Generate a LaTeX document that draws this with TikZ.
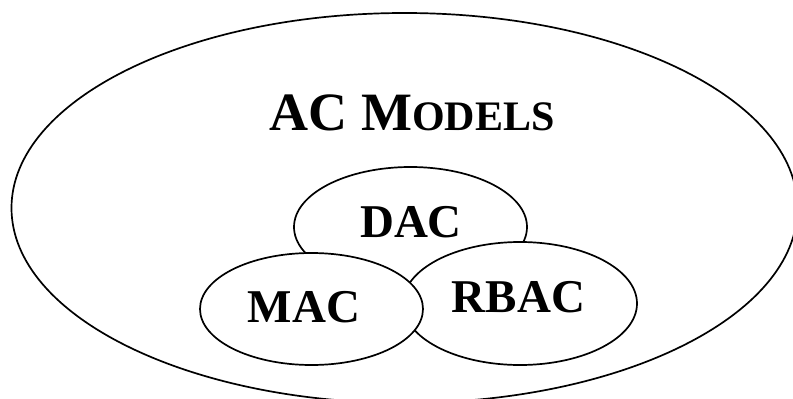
\documentclass[tikz,border=0pt]{standalone}
\usepackage{fontspec}
\setmainfont{Liberation Serif}
\usetikzlibrary{shapes.geometric}
\begin{document}
\begin{tikzpicture}[x=1pt,y=-1pt,
  ring/.style={draw=black,line width=1.7pt,ellipse,inner sep=0pt,fill=white},
  label/.style={anchor=base,font=\bfseries\fontsize{47}{47}\selectfont,inner sep=0pt}]
  \useasboundingbox (0,0) rectangle (793,399);
  \clip (0,0) rectangle (793,399);
  % outer ellipse (partly beyond the page edge)
  \draw[line width=1.7pt] (404.5,208) ellipse [x radius=393, y radius=195];
  \node[anchor=base,inner sep=0pt] (title) at (412,130)
    {\bfseries\fontsize{54}{54}\selectfont AC M\fontsize{42}{42}\selectfont ODELS};
  % three overlapping models
  \node[ring,minimum width=233pt,minimum height=120pt] (dac) at (410.5,227) {};
  \node[ring,minimum width=234pt,minimum height=123pt] (rbac) at (520,303.5) {};
  \node[ring,minimum width=223pt,minimum height=112pt] (mac) at (311.5,309) {};
  \node[label] (dact) at (411,237) {DAC};
  \node[label] (mact) at (304,322) {MAC};
  \node[label] (rbact) at (518.5,312) {RBAC};
\end{tikzpicture}
\end{document}
